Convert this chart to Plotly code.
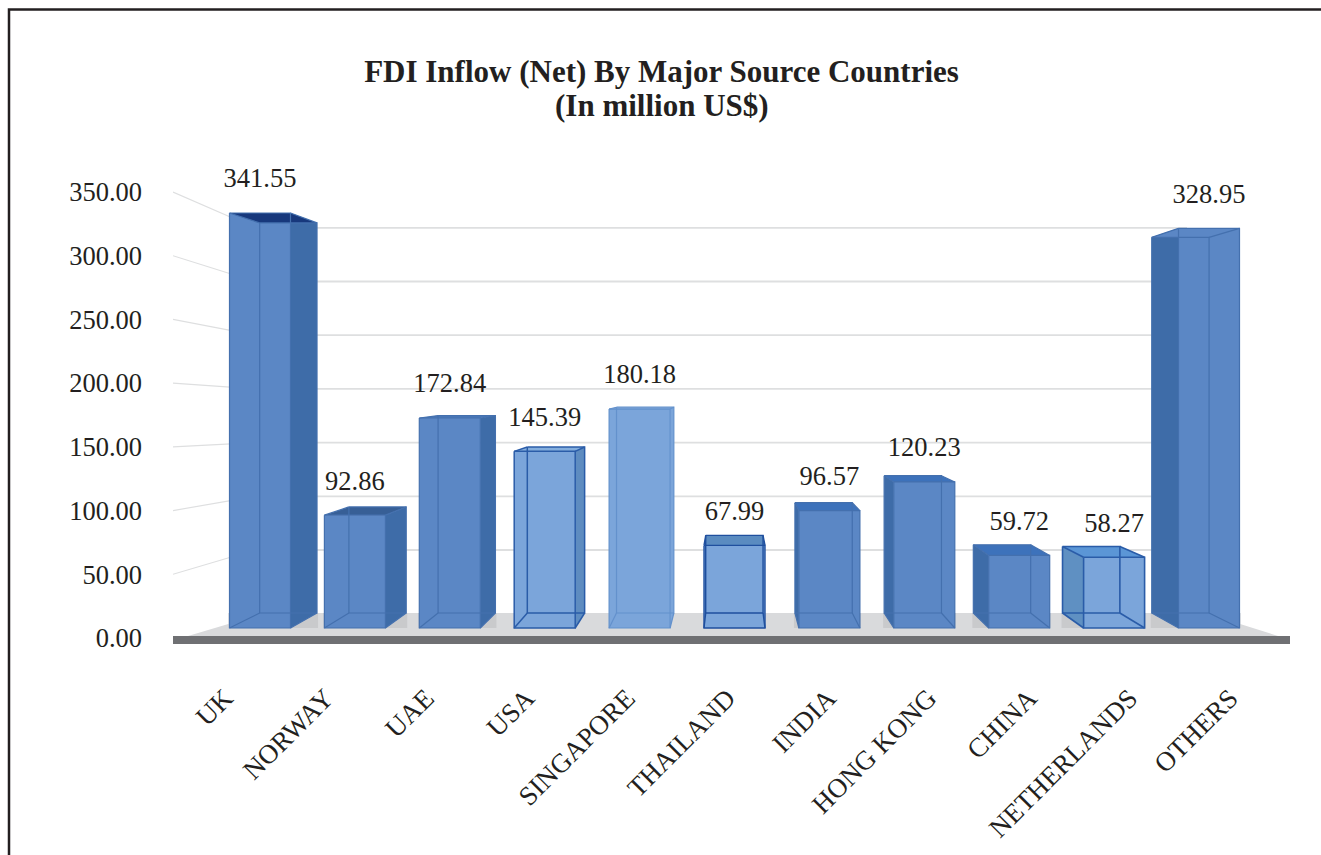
import plotly.graph_objects as go

# ---- data ----
categories = ["UK", "NORWAY", "UAE", "USA", "SINGAPORE", "THAILAND", "INDIA",
              "HONG KONG", "CHINA", "NETHERLANDS", "OTHERS"]
values = [341.55, 92.86, 172.84, 145.39, 180.18, 67.99, 96.57, 120.23, 59.72, 58.27, 328.95]
axis_ticks = [0, 50, 100, 150, 200, 250, 300, 350]
title_main = "FDI Inflow (Net) By Major Source Countries"
title_unit = "(In million US$)"

# ---- styles ----
DARK, LIGHT = "#5B87C5", "#7BA5DA"
front_colors = [DARK, DARK, DARK, LIGHT, LIGHT, LIGHT, DARK, DARK, DARK, LIGHT, DARK]
side_colors = ["#3E6CA8", "#3E6CA8", "#3E6CA8", "#5E8CC0", "#7BA5DA", "#5E8CC0",
               "#3E6CA8", "#3E6CA8", "#3E6CA8", "#5F90C2", "#3E6CA8"]
top_colors = ["#17387C", "#375F96", "#4A78B8", "#84AEDD", "#7BA5DA", "#5A8BC0",
              "#3D72BB", "#3D72BB", "#3D72BB", "#5B96D6", "#5B87C5"]
edge_colors = ["#4470AE", "#4470AE", "#4470AE", "#2A5CA8", "#6391CC", "#1F4F9E",
               "#4470AE", "#4470AE", "#4470AE", "#2A5CA8", "#4470AE"]
edge_widths = [1.2, 1.2, 1.2, 1.5, 1.2, 1.4, 1.2, 1.2, 1.2, 1.6, 1.2]
has_shadow = [True, True, True, False, False, False, True, True, True, True, True]
TEXT = "#231F20"
FONT = "Liberation Serif"

# ---- layout geometry (page pixels) ----
W, H = 1321, 855
PL, PR, PT, PB = 173, 1290, 150, 650
ZERO_PX, AXIS_PX_PER_UNIT = 638, 446 / 350      # visible (left) axis
FLOOR_PX, BAR_PX_PER_UNIT = 628, 1.215          # front plane of the bars
SLOT0, SLOT = 260, 94.9
LABEL0, LABEL_SLOT = 225, 100.5                 # category labels fan out wider than the bars
BAR_W = 61
VP_X, VP_Y, DEPTH = 732.5, 378, 0.94            # perspective of the rear plane
WALL_BASE, WALL_SCALE = 603.7, 1.074            # rear wall gridlines
WALL_L, WALL_R = 255, 1187


def X(p):
    return (p - SLOT0) / SLOT


def Y1(p):
    return (ZERO_PX - p) / AXIS_PX_PER_UNIT


def Y2(p):
    return (FLOOR_PX - p) / BAR_PX_PER_UNIT


def back_x(p):
    return VP_X + (p - VP_X) * DEPTH


def back_y(p):
    return VP_Y + (p - VP_Y) * DEPTH


def poly(points, color, yf=Y2, axis="y2"):
    xs = [X(p[0]) for p in points] + [X(points[0][0])]
    ys = [yf(p[1]) for p in points] + [yf(points[0][1])]
    return go.Scatter(x=xs, y=ys, mode="lines", fill="toself", fillcolor=color,
                      line=dict(width=0, color=color), yaxis=axis,
                      hoverinfo="skip", showlegend=False)


fig = go.Figure()

# --- walls and floor, on the visible axis (drawn under the bars) ---
gx, gy, sx, sy = [], [], [], []
for v in axis_ticks[1:]:
    wall_px = WALL_BASE - WALL_SCALE * v
    gx += [X(WALL_L), X(WALL_R), None]
    gy += [Y1(wall_px), Y1(wall_px), None]
    sx += [X(PL), X(WALL_L), None]
    sy += [v, Y1(wall_px), None]
fig.add_trace(go.Scatter(x=sx, y=sy, mode="lines", line=dict(color="#DEDFE0", width=1.2),
                         hoverinfo="skip", showlegend=False))
fig.add_trace(go.Scatter(x=gx, y=gy, mode="lines", line=dict(color="#DEDFE0", width=1.8),
                         hoverinfo="skip", showlegend=False))
fig.add_trace(poly([(188, 636), (265, 613), (1205, 613), (1278, 636)], "#D9DADC", Y1, "y"))
fig.add_trace(go.Scatter(x=[X(PL), X(PR)], y=[Y1(640), Y1(640)], mode="lines",
                         line=dict(color="#6F7073", width=8),
                         hoverinfo="skip", showlegend=False))

# --- bar geometry from the values ---
geo = []
for i, v in enumerate(values):
    c = SLOT0 + SLOT * i
    fl, fr = c - BAR_W / 2, c + BAR_W / 2
    ft = FLOOR_PX - v * BAR_PX_PER_UNIT
    geo.append(dict(fl=fl, fr=fr, ft=ft, bl=back_x(fl), br=back_x(fr),
                    bt=back_y(ft), bb=back_y(FLOOR_PX)))

for g, s in zip(geo, has_shadow):
    if s:
        x0, x1 = min(g["fl"], g["bl"]) - 1, max(g["fr"], g["br"]) + 1
        fig.add_trace(poly([(x0, g["bb"]), (x1, g["bb"]), (x1, FLOOR_PX), (x0, FLOOR_PX)],
                           "#C9CACC", Y1, "y"))

# --- front faces: real bars on the value axis ---
fig.add_trace(go.Bar(x=list(range(len(values))), y=values, yaxis="y2",
                     width=BAR_W / SLOT, marker=dict(color=front_colors, line=dict(width=0)),
                     hovertemplate="%{y:.2f}<extra></extra>", showlegend=False))

# --- side and top faces, edges ---
for i, g in enumerate(geo):
    if g["br"] > g["fr"]:
        fig.add_trace(poly([(g["fr"], g["ft"]), (g["br"], g["bt"]), (g["br"], g["bb"]),
                            (g["fr"], FLOOR_PX)], side_colors[i]))
    if g["bl"] < g["fl"]:
        fig.add_trace(poly([(g["fl"], g["ft"]), (g["bl"], g["bt"]), (g["bl"], g["bb"]),
                            (g["fl"], FLOOR_PX)], side_colors[i]))
    fig.add_trace(poly([(g["fl"], g["ft"]), (g["fr"], g["ft"]), (g["br"], g["bt"]),
                        (g["bl"], g["bt"])], top_colors[i]))
    segs = [
        [(g["fl"], g["ft"]), (g["fr"], g["ft"]), (g["fr"], FLOOR_PX), (g["fl"], FLOOR_PX),
         (g["fl"], g["ft"])],
        [(g["bl"], g["bt"]), (g["br"], g["bt"]), (g["br"], g["bb"]), (g["bl"], g["bb"]),
         (g["bl"], g["bt"])],
        [(g["fl"], g["ft"]), (g["bl"], g["bt"])],
        [(g["fr"], g["ft"]), (g["br"], g["bt"])],
        [(g["fl"], FLOOR_PX), (g["bl"], g["bb"])],
        [(g["fr"], FLOOR_PX), (g["br"], g["bb"])],
    ]
    ex, ey = [], []
    for seg in segs:
        ex += [X(p[0]) for p in seg] + [None]
        ey += [Y2(p[1]) for p in seg] + [None]
    fig.add_trace(go.Scatter(x=ex, y=ey, yaxis="y2", mode="lines",
                             line=dict(color=edge_colors[i], width=edge_widths[i]),
                             hoverinfo="skip", showlegend=False))

# --- value labels: a fixed lift above each bar's front edge ---
fig.add_trace(go.Scatter(
    x=list(range(len(values))),
    y=[Y2(g["ft"] - 19) for g in geo],
    yaxis="y2", mode="text", text=[f"{v:.2f}" for v in values],
    textposition="top center", textfont=dict(family=FONT, size=26.5, color=TEXT),
    cliponaxis=False, hoverinfo="skip", showlegend=False))

# --- category labels live on their own, wider axis ---
fig.add_trace(go.Scatter(x=list(range(len(categories))), y=[None] * len(categories),
                         xaxis="x2", yaxis="y", mode="markers", marker=dict(opacity=0),
                         hoverinfo="skip", showlegend=False))

frame_x = lambda p: (p - PL) / (PR - PL)
frame_y = lambda p: (PB - p) / (PB - PT)

fig.update_layout(
    width=W, height=H,
    margin=dict(l=PL, r=W - PR, t=PT, b=H - PB, pad=0),
    paper_bgcolor="white", plot_bgcolor="rgba(0,0,0,0)",
    barmode="overlay",
    font=dict(family=FONT, size=26.5, color=TEXT),
    title=dict(text="<b>" + title_main + "</b>",
               x=661.5 / W, xref="container", xanchor="center",
               y=1 - 71 / H, yref="container", yanchor="middle",
               font=dict(family=FONT, size=31, color=TEXT)),
    annotations=[dict(text="<b>" + title_unit + "</b>", showarrow=False,
                      xref="paper", yref="paper", x=frame_x(661.5), y=frame_y(106),
                      xanchor="center", yanchor="middle",
                      font=dict(family=FONT, size=31, color=TEXT))],
    xaxis=dict(range=[X(PL), X(PR)], showticklabels=False, ticks="", showgrid=False,
               zeroline=False, showline=False),
    xaxis2=dict(range=[(PL - LABEL0) / LABEL_SLOT, (PR - LABEL0) / LABEL_SLOT],
                overlaying="x", anchor="y", side="bottom", tickmode="array",
                tickvals=list(range(len(categories))), ticktext=categories,
                tickangle=-45, ticks="", showgrid=False, zeroline=False, showline=False,
                ticklabelstandoff=26, tickfont=dict(family=FONT, size=27, color=TEXT)),
    yaxis=dict(range=[Y1(PB), Y1(PT)], tickmode="array", tickvals=axis_ticks,
               tickformat=".2f", ticks="", showgrid=False, zeroline=False, showline=False,
               ticklabelstandoff=30, tickfont=dict(family=FONT, size=26.5, color=TEXT)),
    yaxis2=dict(range=[Y2(PB), Y2(PT)], overlaying="y", visible=False, showgrid=False,
                zeroline=False),
    shapes=[dict(type="path", xref="paper", yref="paper",
                 path=f"M {frame_x(9)} {frame_y(H + 5)} L {frame_x(9)} {frame_y(9.5)} "
                      f"L {frame_x(W + 5)} {frame_y(9.5)}",
                 line=dict(color=TEXT, width=2.5))],
)

fig.write_html("out.html", config={"displayModeBar": False},
               post_script="document.body.style.margin='0';document.body.style.overflow='hidden';")
